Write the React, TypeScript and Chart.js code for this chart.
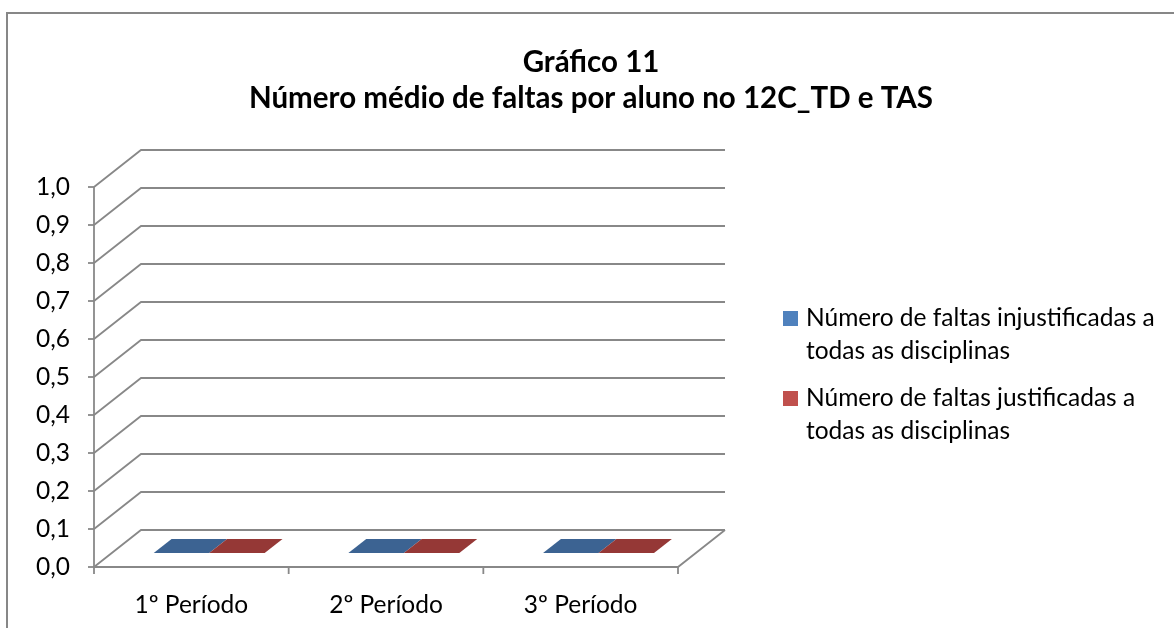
import React, { useEffect, useRef } from 'react';
import { Chart, registerables } from 'chart.js';

Chart.register(...registerables);

// ---- data ----
const categories = ['1º Período', '2º Período', '3º Período'];
const seriesNames = [
  'Número de faltas injustificadas a todas as disciplinas',
  'Número de faltas justificadas a todas as disciplinas',
];
const faltasInjustificadas = [0, 0, 0];
const faltasJustificadas = [0, 0, 0];
const legendLines = [
  ['Número de faltas injustificadas a', 'todas as disciplinas'],
  ['Número de faltas justificadas a', 'todas as disciplinas'],
];
const titleLines = ['Gráfico 11', 'Número médio de faltas por aluno no 12C_TD e TAS'];
const yMin = 0;
const yMax = 1;
const yStep = 0.1;

// ---- style ----
const FONT = 'Lato, "Open Sans", sans-serif';
const GRID = '#888888';
const LEGEND_COLORS = ['#4F81BD', '#C0504D'];
const TOP_COLORS = ['#3C6392', '#953836'];
const DX = 47;
const DY = -37;
const DEPTH_A = 0.38;
const DEPTH_B = 0.76;

const frame3d = {
  id: 'frame3d',
  beforeDatasetsDraw(chart: any) {
    const { ctx, chartArea } = chart;
    const { left, right } = chartArea;
    const ys = chart.scales.y;
    const xs = chart.scales.x;
    ctx.save();
    ctx.strokeStyle = GRID;
    ctx.lineWidth = 1.8;
    ctx.lineCap = 'butt';
    const y0 = ys.getPixelForValue(yMin);
    ys.ticks.forEach((t: any) => {
      const py = ys.getPixelForValue(t.value);
      ctx.beginPath();
      ctx.moveTo(left, py);
      ctx.lineTo(left + DX, py + DY);
      ctx.lineTo(right + DX, py + DY);
      ctx.stroke();
      ctx.beginPath();
      ctx.moveTo(left - 6, py);
      ctx.lineTo(left, py);
      ctx.stroke();
    });
    ctx.beginPath();
    ctx.moveTo(left, y0);
    ctx.lineTo(right, y0);
    ctx.lineTo(right + DX, y0 + DY);
    ctx.stroke();
    ctx.beginPath();
    ctx.moveTo(left, ys.getPixelForValue(yMax));
    ctx.lineTo(left, y0);
    ctx.stroke();
    for (let i = 0; i <= categories.length; i++) {
      const bx = xs.getPixelForValue(i - 0.5);
      ctx.beginPath();
      ctx.moveTo(bx, y0);
      ctx.lineTo(bx, y0 + 7);
      ctx.stroke();
    }
    ctx.restore();
  },
  afterDatasetsDraw(chart: any) {
    const { ctx } = chart;
    ctx.save();
    chart.data.datasets.forEach((ds: any, di: number) => {
      const meta = chart.getDatasetMeta(di);
      meta.data.forEach((bar: any) => {
        const { x, y, width } = bar.getProps(['x', 'y', 'width'], true);
        const l = x - width / 2;
        const r = x + width / 2;
        ctx.beginPath();
        ctx.moveTo(l + DEPTH_A * DX, y + DEPTH_A * DY);
        ctx.lineTo(r + DEPTH_A * DX, y + DEPTH_A * DY);
        ctx.lineTo(r + DEPTH_B * DX, y + DEPTH_B * DY);
        ctx.lineTo(l + DEPTH_B * DX, y + DEPTH_B * DY);
        ctx.closePath();
        ctx.fillStyle = TOP_COLORS[di];
        ctx.fill();
      });
    });
    ctx.restore();
  },
  afterDraw(chart: any) {
    const { ctx } = chart;
    ctx.save();
    // outer frame (left and top edges visible)
    ctx.strokeStyle = '#878787';
    ctx.lineWidth = 2;
    ctx.beginPath();
    ctx.moveTo(7, 700);
    ctx.lineTo(7, 13);
    ctx.lineTo(1300, 13);
    ctx.stroke();
    // title
    ctx.fillStyle = '#000';
    ctx.textAlign = 'center';
    ctx.textBaseline = 'middle';
    ctx.font = `bold 29.5px ${FONT}`;
    ctx.fillText(titleLines[0], 591, 62);
    ctx.fillText(titleLines[1], 591, 98);
    // legend
    ctx.textAlign = 'left';
    ctx.font = `24.5px ${FONT}`;
    chart.data.datasets.forEach((ds: any, di: number) => {
      const top = 311 + di * 80;
      ctx.fillStyle = ds.backgroundColor;
      ctx.fillRect(783, top, 15, 15);
      ctx.fillStyle = '#000';
      legendLines[di].forEach((line, li) => {
        ctx.fillText(line, 806, top + 7 + li * 33);
      });
    });
    ctx.restore();
  },
};

export default function App() {
  const ref = useRef<HTMLCanvasElement>(null);
  useEffect(() => {
    if (!ref.current) return;
    const chart = new Chart(ref.current, {
      type: 'bar',
      data: {
        labels: categories,
        datasets: [
          { label: seriesNames[0], data: faltasInjustificadas, backgroundColor: LEGEND_COLORS[0], borderWidth: 0, categoryPercentage: 0.57, barPercentage: 1 },
          { label: seriesNames[1], data: faltasJustificadas, backgroundColor: LEGEND_COLORS[1], borderWidth: 0, categoryPercentage: 0.57, barPercentage: 1 },
        ],
      },
      options: {
        responsive: false,
        animation: false,
        devicePixelRatio: 1,
        layout: { padding: { left: 0, top: 187, right: 496, bottom: 0 } },
        plugins: {
          legend: { display: false },
          title: { display: false },
          tooltip: { enabled: false },
        },
        scales: {
          x: {
            type: 'category',
            grid: { display: false, drawTicks: false },
            border: { display: false },
            ticks: { color: '#000', font: { family: FONT, size: 24.5 }, padding: 23, maxRotation: 0 },
            afterFit: (s: any) => { s.height = 61; },
          },
          y: {
            min: yMin,
            max: yMax,
            grid: { display: false, drawTicks: false },
            border: { display: false },
            ticks: {
              stepSize: yStep,
              color: '#000',
              font: { family: FONT, size: 24.5 },
              padding: 24,
              callback: (v: any) => Number(v).toFixed(1).replace('.', ','),
            },
            afterFit: (s: any) => { s.width = 94; },
          },
        },
      },
      plugins: [frame3d],
    });
    return () => chart.destroy();
  }, []);
  return (
    <div style={{ position: 'absolute', left: 0, top: 0, width: 1174, height: 628, background: '#fff' }}>
      <canvas ref={ref} width={1174} height={628} style={{ display: 'block' }} />
    </div>
  );
}
